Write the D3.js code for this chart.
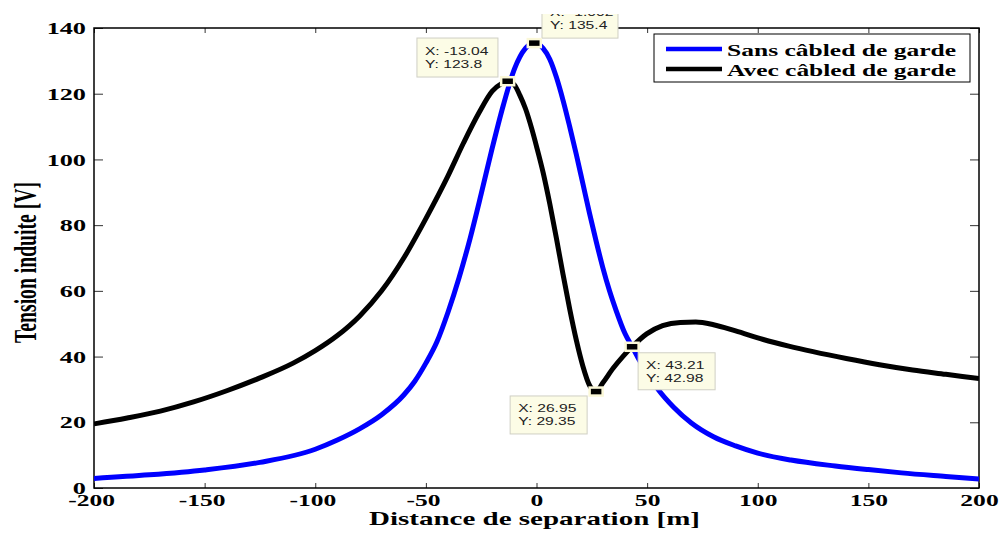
<!DOCTYPE html>
<html>
<head>
<meta charset="utf-8">
<script src="https://d3js.org/d3.v7.min.js"></script>
<style>
  body { margin: 0; background: #fff; }
  svg { display: block; }
  .tick line { stroke: #333; }
  .serif { font-family: "Liberation Serif", "Times New Roman", serif; font-weight: bold; }
</style>
</head>
<body>
<div id="chart"></div>
<script>
// values
const xTicks = [-200, -150, -100, -50, 0, 50, 100, 150, 200]
const yTicks = [0, 20, 40, 60, 80, 100, 120, 140]

const seriesNames = ["Sans câbled de garde", "Avec câbled de garde"]
const seriesColors = ["#0000ff", "#000000"]

// sans cable de garde
const blueX = [-200, -175, -150, -125, -100, -90, -80, -70, -60, -55, -50, -45, -40, -35, -30, -25, -20, -15, -10, -5, -1,
  3, 6, 9, 12, 15, 18, 21, 24, 27, 30, 33, 36, 40, 43.21, 46, 50, 55, 62, 70, 80, 90, 100, 115, 135, 150, 165, 185, 200]
const blueY = [2.9, 4.0, 5.5, 7.8, 11.8, 14.6, 18.0, 22.3, 28.3, 32.5, 38.0, 44.5, 53.5, 64.0, 76.0, 89.5, 103.5, 116.5, 127.5, 133.8, 135.4,
  133.8, 130.5, 125.0, 118.0, 110.0, 101.5, 92.5, 83.5, 75.0, 67.0, 60.0, 54.0, 47.0, 42.98, 39.5, 35.0, 30.0, 24.6, 19.8, 15.6, 12.8, 10.6, 8.5, 6.7, 5.6, 4.6, 3.5, 2.7]

// avec cable de garde
const blackX = [-200, -185, -170, -155, -140, -125, -110, -100, -90, -80, -70, -60, -50, -40, -33, -26, -20, -16, -13.04,
  -10, -7.5, -5, -2, 0, 3, 6, 9, 12, 15, 18, 21, 24, 26.95, 30, 34.7, 39, 43.21, 49.8, 57, 65, 72, 80, 90, 102.5, 114, 125, 140, 155, 170, 185, 200]
const blackY = [19.5, 21.3, 23.4, 26.2, 29.6, 33.5, 38.0, 41.8, 46.4, 52.3, 60.0, 70.0, 82.0, 95.0, 105.0, 114.2, 120.8, 123.0, 123.8,
  122.7, 119.5, 115.5, 109.0, 104.0, 96.0, 86.5, 76.0, 65.0, 54.5, 45.0, 37.0, 31.2, 29.35, 32.0, 36.5, 40.0, 42.98, 46.9, 49.4, 50.4, 50.5, 49.7, 47.8, 45.2, 43.2, 41.5, 39.4, 37.5, 35.9, 34.6, 33.3]

// data tips
const tipX = [-13.04, -1.002, 43.21, 26.95]
const tipY = [123.8, 135.4, 42.98, 29.35]

var width = 1000, height = 535
var margin = {top: 28, right: 21, bottom: 47, left: 94}

var svg = d3.select("#chart").append("svg")
  .attr("width", width)
  .attr("height", height)

var x = d3.scaleLinear().domain([-200, 200]).range([margin.left, width - margin.right])
var y = d3.scaleLinear().domain([0, 140]).range([height - margin.bottom, margin.top])

svg.append("clipPath").attr("id", "plotclip")
  .append("rect")
  .attr("x", x(-200)).attr("y", y(140))
  .attr("width", x(200) - x(-200)).attr("height", y(0) - y(140))

// axes, ticks pointing inward
var gx = svg.append("g").attr("transform", "translate(0," + y(0) + ")")
  .call(d3.axisBottom(x).tickValues(xTicks).tickSize(-5).tickFormat(d => String(d)))
gx.select(".domain").remove()
gx.selectAll("text")
  .attr("class", "serif")
  .attr("y", 18.5).attr("dy", null)
  .attr("dx", d => d < 0 ? -2 : 0)
  .attr("transform", "scale(1.46,1)")
  .style("font-size", "17.5px").attr("fill", "#000")

svg.append("g").attr("transform", "translate(0," + y(140) + ")")
  .call(d3.axisTop(x).tickValues(xTicks).tickSize(-5).tickFormat(""))
  .select(".domain").remove()

var gy = svg.append("g").attr("transform", "translate(" + x(-200) + ",0)")
  .call(d3.axisLeft(y).tickValues(yTicks).tickSize(-9))
gy.select(".domain").remove()
gy.selectAll("text")
  .attr("class", "serif")
  .attr("x", -8 / 1.5).attr("dy", "0.32em")
  .attr("transform", "scale(1.5,1)")
  .style("font-size", "17.5px").attr("fill", "#000")

svg.append("g").attr("transform", "translate(" + x(200) + ",0)")
  .call(d3.axisRight(y).tickValues(yTicks).tickSize(-9).tickFormat(""))
  .select(".domain").remove()

svg.append("rect")
  .attr("x", x(-200)).attr("y", y(140))
  .attr("width", x(200) - x(-200)).attr("height", y(0) - y(140))
  .attr("fill", "none").attr("stroke", "#000").attr("stroke-width", 1.5)

// curves
var line = d3.line()
  .x(d => x(d[0]))
  .y(d => y(d[1]))
  .curve(d3.curveMonotoneX)

var series = [d3.zip(blueX, blueY), d3.zip(blackX, blackY)]

svg.append("g").attr("clip-path", "url(#plotclip)")
  .selectAll("path")
  .data(series)
  .enter()
  .append("path")
  .attr("d", line)
  .attr("fill", "none")
  .attr("stroke", (d, i) => seriesColors[i])
  .attr("stroke-width", 5)
  .attr("stroke-linejoin", "round")

// legend
var leg = svg.append("g")
leg.append("rect")
  .attr("x", 654).attr("y", 34).attr("width", 316).attr("height", 48)
  .attr("fill", "#fff").attr("stroke", "#000").attr("stroke-width", 1)
seriesNames.forEach((name, i) => {
  var ly = 49 + i * 20
  leg.append("line")
    .attr("x1", 666).attr("x2", 722).attr("y1", ly).attr("y2", ly)
    .attr("stroke", seriesColors[i]).attr("stroke-width", 4.5)
  leg.append("text")
    .attr("class", "serif")
    .attr("x", 727).attr("y", ly + 6.5)
    .attr("textLength", 229).attr("lengthAdjust", "spacingAndGlyphs")
    .style("font-size", "17.5px")
    .text(name)
})

// data tips (box offsets relative to marker)
var tipBox = [
  {dx: -90.7, dy: -43.2, w: 81, h: 39},
  {dx: 7.7, dy: -44, w: 76, h: 39},
  {dx: 6, dy: 6, w: 77, h: 37},
  {dx: -86, dy: 4.4, w: 77, h: 38}
]

svg.append("clipPath").attr("id", "tipclip")
  .append("rect").attr("x", 0).attr("y", 14).attr("width", width).attr("height", height)

var tips = svg.append("g").attr("clip-path", "url(#tipclip)")
tipX.forEach((tx, i) => {
  var mx = x(tx), my = y(tipY[i])
  var b = tipBox[i]
  var g = tips.append("g")
  g.append("rect")
    .attr("x", mx + b.dx).attr("y", my + b.dy)
    .attr("width", b.w).attr("height", b.h)
    .attr("fill", "#fcfce6").attr("stroke", "#cfcfc4").attr("stroke-width", 1)
  var lines = ["X: " + tx, "Y: " + tipY[i]]
  lines.forEach((t, k) => {
    g.append("text")
      .attr("transform", "translate(" + (mx + b.dx + 8) + "," + (my + b.dy + 16.5 + k * 13) + ") scale(1.36,1)")
      .style("font-family", "'Liberation Sans', Arial, sans-serif")
      .style("font-size", "11.5px")
      .attr("fill", "#222")
      .text(t)
  })
  g.append("rect")
    .attr("x", mx - 6.5).attr("y", my - 4)
    .attr("width", 13).attr("height", 8)
    .attr("fill", "#000").attr("stroke", "#fbf8d8").attr("stroke-width", 2.5)
})

// axis titles
svg.append("text")
  .attr("class", "serif")
  .attr("x", 369).attr("y", 525)
  .attr("textLength", 331).attr("lengthAdjust", "spacingAndGlyphs")
  .style("font-size", "19.5px")
  .text("Distance de separation [m]")

svg.append("text")
  .attr("class", "serif")
  .attr("transform", "translate(36,262.5) scale(1.45,1) rotate(-90)")
  .attr("text-anchor", "middle")
  .attr("textLength", 161).attr("lengthAdjust", "spacingAndGlyphs")
  .style("font-size", "22px")
  .text("Tension induite [V]")
</script>
</body>
</html>
